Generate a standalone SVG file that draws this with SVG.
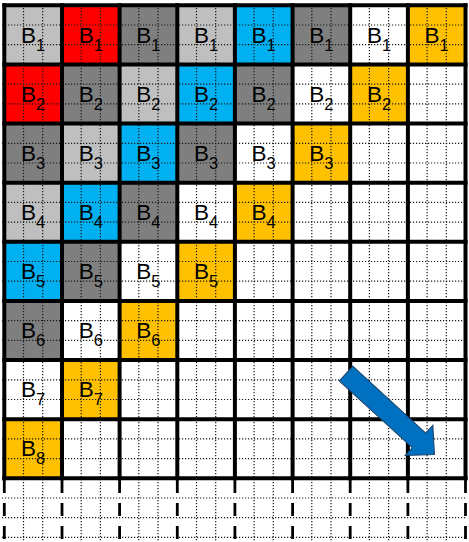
<svg xmlns="http://www.w3.org/2000/svg" width="469" height="542" viewBox="0 0 469 542">
<style>
.lg{fill:#BFBFBF}.r{fill:#FF0000}.dg{fill:#7F7F7F}.bl{fill:#00B0F0}.or{fill:#FFC000}.w{fill:#FFFFFF}
.dot{stroke:#1a1a1a;stroke-width:1.2;stroke-dasharray:1.2 1.8;fill:none}
.grid{stroke:#000;stroke-width:4;fill:none;stroke-linecap:square}
.dash{stroke:#000;stroke-width:2.8;stroke-dasharray:13 10;fill:none}
text{font-family:"Liberation Sans",Arial,sans-serif;font-size:22.5px;fill:#000;text-anchor:middle}
.sub{font-size:16.5px}
</style>
<rect width="469" height="542" fill="#FFFFFF"/>
<g id="cells">
<g id="b1-c1"><rect class="lg" x="4.3" y="5.3" width="57.7" height="59.1"/></g>
<g id="b1-c2"><rect class="r" x="62" y="5.3" width="57.6" height="59.1"/></g>
<g id="b1-c3"><rect class="dg" x="119.6" y="5.3" width="57.7" height="59.1"/></g>
<g id="b1-c4"><rect class="lg" x="177.3" y="5.3" width="57.6" height="59.1"/></g>
<g id="b1-c5"><rect class="bl" x="234.9" y="5.3" width="57.7" height="59.1"/></g>
<g id="b1-c6"><rect class="dg" x="292.6" y="5.3" width="57.6" height="59.1"/></g>
<g id="b1-c7"><rect class="w" x="350.2" y="5.3" width="57.7" height="59.1"/></g>
<g id="b1-c8"><rect class="or" x="407.9" y="5.3" width="57.6" height="59.1"/></g>

<g id="b2-c1"><rect class="r" x="4.3" y="64.4" width="57.7" height="59.2"/></g>
<g id="b2-c2"><rect class="dg" x="62" y="64.4" width="57.6" height="59.2"/></g>
<g id="b2-c3"><rect class="lg" x="119.6" y="64.4" width="57.7" height="59.2"/></g>
<g id="b2-c4"><rect class="bl" x="177.3" y="64.4" width="57.6" height="59.2"/></g>
<g id="b2-c5"><rect class="dg" x="234.9" y="64.4" width="57.7" height="59.2"/></g>
<g id="b2-c6"><rect class="w" x="292.6" y="64.4" width="57.6" height="59.2"/></g>
<g id="b2-c7"><rect class="or" x="350.2" y="64.4" width="57.7" height="59.2"/></g>

<g id="b3-c1"><rect class="dg" x="4.3" y="123.6" width="57.7" height="59.1"/></g>
<g id="b3-c2"><rect class="lg" x="62" y="123.6" width="57.6" height="59.1"/></g>
<g id="b3-c3"><rect class="bl" x="119.6" y="123.6" width="57.7" height="59.1"/></g>
<g id="b3-c4"><rect class="dg" x="177.3" y="123.6" width="57.6" height="59.1"/></g>
<g id="b3-c5"><rect class="w" x="234.9" y="123.6" width="57.7" height="59.1"/></g>
<g id="b3-c6"><rect class="or" x="292.6" y="123.6" width="57.6" height="59.1"/></g>

<g id="b4-c1"><rect class="lg" x="4.3" y="182.7" width="57.7" height="59.1"/></g>
<g id="b4-c2"><rect class="bl" x="62" y="182.7" width="57.6" height="59.1"/></g>
<g id="b4-c3"><rect class="dg" x="119.6" y="182.7" width="57.7" height="59.1"/></g>
<g id="b4-c4"><rect class="w" x="177.3" y="182.7" width="57.6" height="59.1"/></g>
<g id="b4-c5"><rect class="or" x="234.9" y="182.7" width="57.7" height="59.1"/></g>

<g id="b5-c1"><rect class="bl" x="4.3" y="241.8" width="57.7" height="59.1"/></g>
<g id="b5-c2"><rect class="dg" x="62" y="241.8" width="57.6" height="59.1"/></g>
<g id="b5-c3"><rect class="w" x="119.6" y="241.8" width="57.7" height="59.1"/></g>
<g id="b5-c4"><rect class="or" x="177.3" y="241.8" width="57.6" height="59.1"/></g>

<g id="b6-c1"><rect class="dg" x="4.3" y="300.9" width="57.7" height="59.2"/></g>
<g id="b6-c2"><rect class="w" x="62" y="300.9" width="57.6" height="59.2"/></g>
<g id="b6-c3"><rect class="or" x="119.6" y="300.9" width="57.7" height="59.2"/></g>

<g id="b7-c1"><rect class="w" x="4.3" y="360.1" width="57.7" height="59.1"/></g>
<g id="b7-c2"><rect class="or" x="62" y="360.1" width="57.6" height="59.1"/></g>

<g id="b8-c1"><rect class="or" x="4.3" y="419.2" width="57.7" height="59.1"/></g>
</g>
<g id="dotted-grid">
<path class="dot" d="M23.5 5V542M42.7 5V542M81.2 5V542M100.4 5V542M138.8 5V542M158 5V542M196.5 5V542M215.7 5V542M254.1 5V542M273.3 5V542M311.8 5V542M331 5V542M369.4 5V542M388.6 5V542M427.1 5V542M446.3 5V542"/>
<path class="dot" d="M2 25H467M2 44.7H467M2 84.1H467M2 103.8H467M2 143.3H467M2 163H467M2 202.4H467M2 222.1H467M2 261.5H467M2 281.2H467M2 320.6H467M2 340.3H467M2 379.8H467M2 399.5H467M2 438.9H467M2 458.6H467M2 498H467M2 517.7H467M2 537.4H467"/>
</g>
<g id="grid">
<path class="grid" d="M4.3 5.3V478.3M62 5.3V478.3M119.6 5.3V478.3M177.3 5.3V478.3M234.9 5.3V478.3M292.6 5.3V478.3M350.2 5.3V478.3M407.9 5.3V478.3M465.5 5.3V478.3"/>
<path class="grid" d="M4.3 5.3H465.5M4.3 64.4H465.5M4.3 123.6H465.5M4.3 182.7H465.5M4.3 241.8H465.5M4.3 300.9H465.5M4.3 360.1H465.5M4.3 419.2H465.5M4.3 478.3H465.5"/>
<path class="dash" d="M4.3 480V542M62 480V542M119.6 480V542M177.3 480V542M234.9 480V542M292.6 480V542M350.2 480V542M407.9 480V542M465.5 480V542"/>
</g>
<g id="labels">
<text x="33.1" y="42.5">B<tspan class="sub" dy="8">1</tspan></text>
<text x="90.8" y="42.5">B<tspan class="sub" dy="8">1</tspan></text>
<text x="148.4" y="42.5">B<tspan class="sub" dy="8">1</tspan></text>
<text x="206.1" y="42.5">B<tspan class="sub" dy="8">1</tspan></text>
<text x="263.7" y="42.5">B<tspan class="sub" dy="8">1</tspan></text>
<text x="321.4" y="42.5">B<tspan class="sub" dy="8">1</tspan></text>
<text x="379" y="42.5">B<tspan class="sub" dy="8">1</tspan></text>
<text x="436.7" y="42.5">B<tspan class="sub" dy="8">1</tspan></text>

<text x="33.1" y="101.6">B<tspan class="sub" dy="8">2</tspan></text>
<text x="90.8" y="101.6">B<tspan class="sub" dy="8">2</tspan></text>
<text x="148.4" y="101.6">B<tspan class="sub" dy="8">2</tspan></text>
<text x="206.1" y="101.6">B<tspan class="sub" dy="8">2</tspan></text>
<text x="263.7" y="101.6">B<tspan class="sub" dy="8">2</tspan></text>
<text x="321.4" y="101.6">B<tspan class="sub" dy="8">2</tspan></text>
<text x="379" y="101.6">B<tspan class="sub" dy="8">2</tspan></text>

<text x="33.1" y="160.8">B<tspan class="sub" dy="8">3</tspan></text>
<text x="90.8" y="160.8">B<tspan class="sub" dy="8">3</tspan></text>
<text x="148.4" y="160.8">B<tspan class="sub" dy="8">3</tspan></text>
<text x="206.1" y="160.8">B<tspan class="sub" dy="8">3</tspan></text>
<text x="263.7" y="160.8">B<tspan class="sub" dy="8">3</tspan></text>
<text x="321.4" y="160.8">B<tspan class="sub" dy="8">3</tspan></text>

<text x="33.1" y="219.9">B<tspan class="sub" dy="8">4</tspan></text>
<text x="90.8" y="219.9">B<tspan class="sub" dy="8">4</tspan></text>
<text x="148.4" y="219.9">B<tspan class="sub" dy="8">4</tspan></text>
<text x="206.1" y="219.9">B<tspan class="sub" dy="8">4</tspan></text>
<text x="263.7" y="219.9">B<tspan class="sub" dy="8">4</tspan></text>

<text x="33.1" y="279">B<tspan class="sub" dy="8">5</tspan></text>
<text x="90.8" y="279">B<tspan class="sub" dy="8">5</tspan></text>
<text x="148.4" y="279">B<tspan class="sub" dy="8">5</tspan></text>
<text x="206.1" y="279">B<tspan class="sub" dy="8">5</tspan></text>

<text x="33.1" y="338.1">B<tspan class="sub" dy="8">6</tspan></text>
<text x="90.8" y="338.1">B<tspan class="sub" dy="8">6</tspan></text>
<text x="148.4" y="338.1">B<tspan class="sub" dy="8">6</tspan></text>

<text x="33.1" y="397.3">B<tspan class="sub" dy="8">7</tspan></text>
<text x="90.8" y="397.3">B<tspan class="sub" dy="8">7</tspan></text>

<text x="33.1" y="456.4">B<tspan class="sub" dy="8">8</tspan></text>
</g>
<g id="arrow">
<polygon points="0,-10 99,-10 99,-20.5 120,0 99,20.5 99,10 0,10" transform="translate(346,373.5) rotate(42.5)" fill="#0070C0" stroke="#1F3F66" stroke-width="1"/>
</g>
</svg>
